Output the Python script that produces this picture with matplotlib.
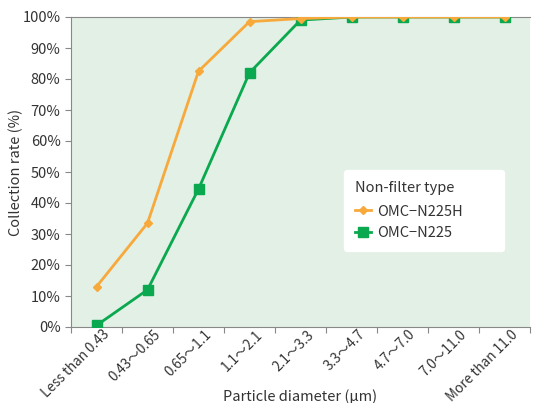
import matplotlib
matplotlib.use("Agg")
import matplotlib.pyplot as plt
import matplotlib.transforms as mtransforms
from matplotlib.ticker import FixedLocator, PercentFormatter

plt.rcParams['font.family'] = ['Noto Sans CJK JP', 'DejaVu Sans']

categories = ["Less than 0.43", "0.43\u301c0.65", "0.65\u301c1.1", "1.1\u301c2.1", "2.1\u301c3.3",
              "3.3\u301c4.7", "4.7\u301c7.0", "7.0\u301c11.0", "More than 11.0"]
n225h = [13, 33.5, 82.5, 98.5, 99.5, 100, 100, 100, 100]
n225 = [0.5, 12, 44.5, 82, 99, 100, 100, 100, 100]

txt = "#333333"
fig = plt.figure(figsize=(5.34, 4.03), dpi=100)
ax = fig.add_axes([71 / 534, 1 - 327 / 403, 459 / 534, 310 / 403])
ax.set_facecolor("#e2f0e5")

x = list(range(len(categories)))
ax.plot(x, n225, color="#0aa84f", lw=2, marker="s", ms=6.5, label="OMC\u2212N225", zorder=3)
ax.plot(x, n225h, color="#f8a93c", lw=2, marker="D", ms=4.5, label="OMC\u2212N225H", zorder=4)

ax.set_xlim(-0.5, len(categories) - 0.5)
ax.set_ylim(0, 100)
ax.set_yticks(range(0, 101, 10))
ax.yaxis.set_major_formatter(PercentFormatter(decimals=0))
ax.xaxis.set_major_locator(FixedLocator([i - 0.5 for i in range(len(categories) + 1)]))
ax.xaxis.set_minor_locator(FixedLocator(x))
ax.set_xticklabels([""] * (len(categories) + 1))
ax.set_xticklabels(categories, minor=True, rotation=45, ha="right", va="center",
                   rotation_mode="anchor")
ax.tick_params(axis="x", which="minor", length=0, pad=9, labelsize=9.8, labelcolor=txt)
ax.tick_params(axis="x", which="major", length=4, color="#888888")
ax.tick_params(axis="y", length=4, color="#888888", labelsize=10.5, labelcolor=txt)
shift = mtransforms.ScaledTranslation(11 / 100, 7 / 100, fig.dpi_scale_trans)
for lab in ax.xaxis.get_minorticklabels():
    lab.set_transform(lab.get_transform() + shift)

for s in ["right"]:
    ax.spines[s].set_visible(False)
for s in ["left", "bottom", "top"]:
    ax.spines[s].set_color("#888888")

ax.set_ylabel("Collection rate (%)", fontsize=10.5, color=txt)
ax.yaxis.set_label_coords(-(71 - 23) / 459, 0.5)
ax.set_xlabel("Particle diameter (\u03bcm)", fontsize=10.5, color=txt)
ax.xaxis.set_label_coords((300 - 71) / 459, -(395 - 327) / 310 + 0.02)

h, l = ax.get_legend_handles_labels()
leg = ax.legend(h[::-1], l[::-1], title="Non-filter type", loc="upper left",
                bbox_to_anchor=(273 / 459, 1 - 156 / 310, 160 / 459, 0.01), mode="expand",
                borderaxespad=0, frameon=True, fancybox=True,
                fontsize=10.5, title_fontsize=10.5, handlelength=1.1, handletextpad=0.45,
                borderpad=0.75, labelspacing=0.5)
leg._legend_box.align = "left"
leg._legend_box.sep = 7
leg.get_frame().set_facecolor("white")
leg.get_frame().set_edgecolor("white")
leg.get_frame().set_alpha(1)
for t in leg.get_texts():
    t.set_color(txt)
leg.get_title().set_color(txt)

fig.savefig("out.png", dpi=100)
